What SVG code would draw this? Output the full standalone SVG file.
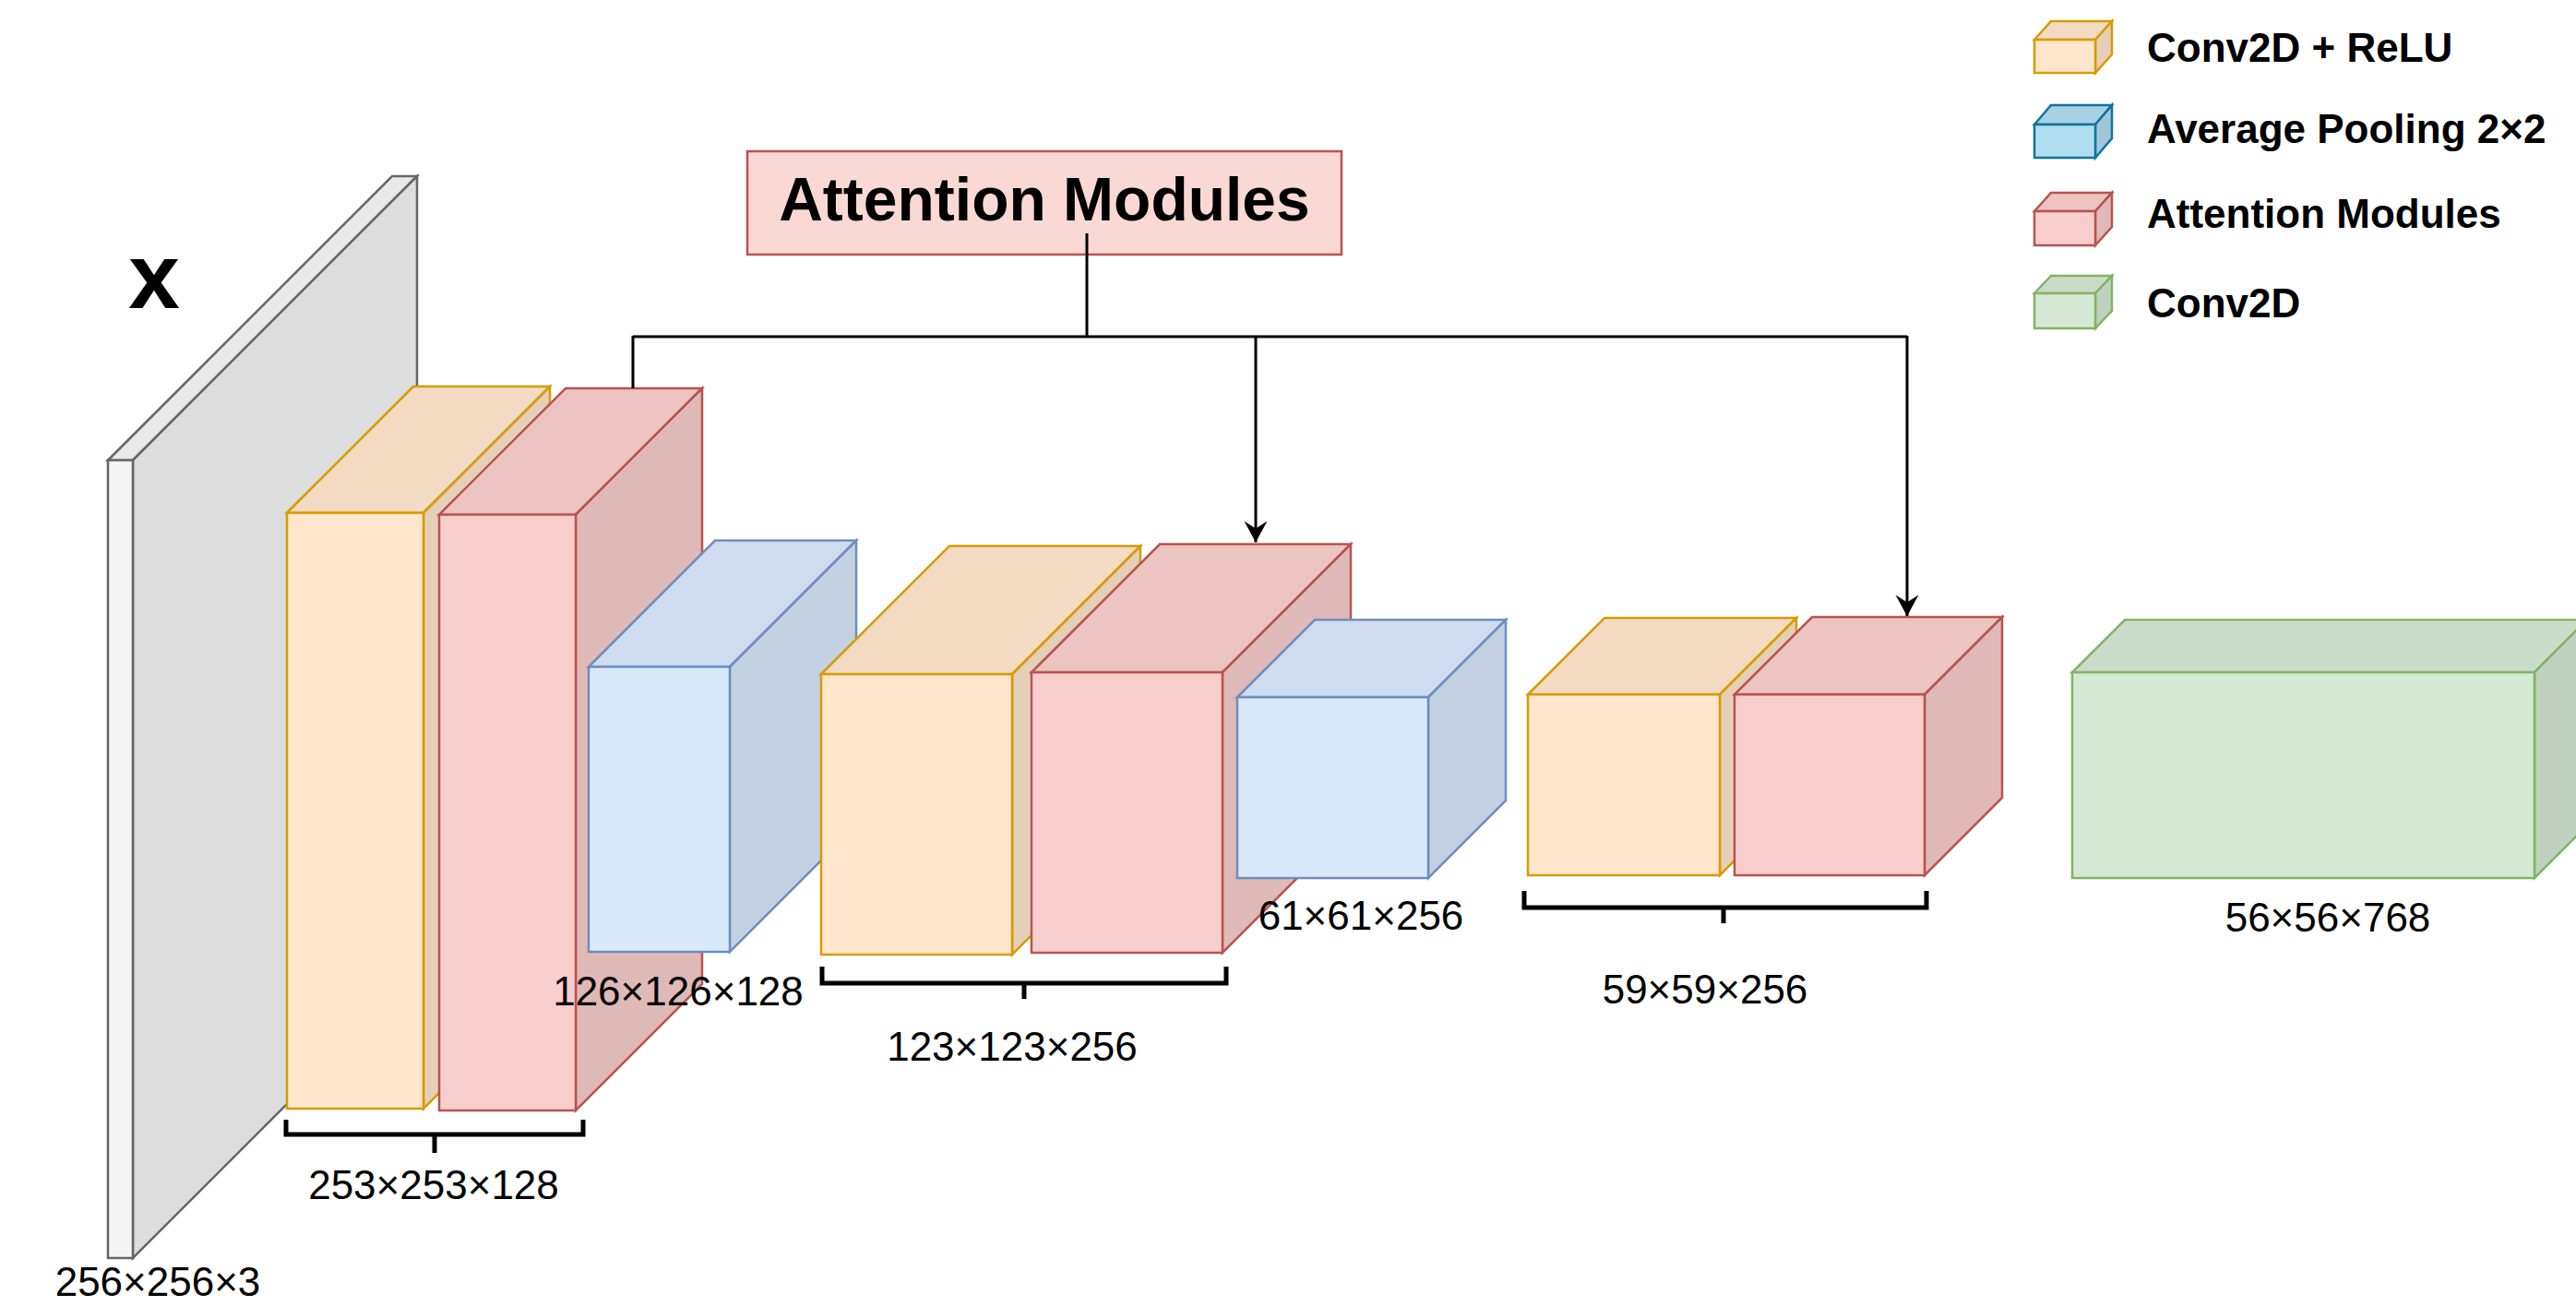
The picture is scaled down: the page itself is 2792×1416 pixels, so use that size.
<svg xmlns="http://www.w3.org/2000/svg" width="2792" height="1416" viewBox="0 0 2792 1416">
<style>
  .lbl { font-family: "Liberation Sans", Arial, sans-serif; font-size: 44px; fill: #000; text-anchor: middle; }
  .leg { font-family: "Liberation Sans", Arial, sans-serif; font-size: 44px; font-weight: bold; fill: #000; }
  .bk { stroke-width: 2.5; stroke-linejoin: miter; }
  .or { stroke: #d79b00; } .or.f { fill: #ffe6cc; } .or.t { fill: #f2dbc2; } .or.s { fill: #e6cfb8; }
  .rd { stroke: #b85450; } .rd.f { fill: #f8cecc; } .rd.t { fill: #ecc4c2; } .rd.s { fill: #dfb9b8; }
  .bl { stroke: #6c8ebf; } .bl.f { fill: #dae8fc; } .bl.t { fill: #cfdcef; } .bl.s { fill: #c4d1e3; }
  .gr { stroke: #82b366; } .gr.f { fill: #d5e8d4; } .gr.t { fill: #cadcc9; } .gr.s { fill: #c0d1bf; }
  .gy { stroke: #666666; } .gy.f { fill: #f5f5f5; } .gy.t { fill: #e9e9e9; } .gy.s { fill: #dddddd; }
  .lb { stroke: #10739e; } .lb.f { fill: #b1ddf0; } .lb.t { fill: #a8d2e4; } .lb.s { fill: #9fc7d8; }
  .conn { fill: none; stroke: #000; stroke-width: 3; }
  .brk { fill: none; stroke: #000; stroke-width: 5; }
</style>
<defs>
  <marker id="arr" markerUnits="userSpaceOnUse" viewBox="-24 -13 25 26" refX="0" refY="0" markerWidth="25" markerHeight="26" orient="auto">
    <path d="M0,0 L-23,-12.5 L-15,0 L-23,12.5 Z" fill="#000"/>
  </marker>
</defs>
<rect width="2792" height="1416" fill="#ffffff"/>

<g id="input-slab">
  <polygon class="bk gy t" points="117,499 425,191 452,191 144,499"/>
  <polygon class="bk gy s" points="144,499 452,191 452,1056 144,1364"/>
  <rect class="bk gy f" x="117" y="499" width="27" height="865"/>
  <text x="167" y="334" style="font-family:'Liberation Sans',Arial,sans-serif;font-size:100px;font-weight:bold;text-anchor:middle">x</text>
  <text class="lbl" x="171" y="1405">256×256×3</text>
</g>

<g id="conv1">
  <polygon class="bk or t" points="311,556 448,419 596,419 459,556"/>
  <polygon class="bk or s" points="459,556 596,419 596,1065 459,1202"/>
  <rect class="bk or f" x="311" y="556" width="148" height="646"/>
</g>
<g id="att1">
  <polygon class="bk rd t" points="476,558 613,421 761,421 624,558"/>
  <polygon class="bk rd s" points="624,558 761,421 761,1067 624,1204"/>
  <rect class="bk rd f" x="476" y="558" width="148" height="646"/>
</g>
<g id="bracket1">
  <path class="brk" d="M310,1214 V1230 H632 V1214 M471,1230 V1250"/>
  <text class="lbl" x="470" y="1300">253×253×128</text>
</g>
<g id="pool1">
  <polygon class="bk bl t" points="638,723 775,586 928,586 791,723"/>
  <polygon class="bk bl s" points="791,723 928,586 928,895 791,1032"/>
  <rect class="bk bl f" x="638" y="723" width="153" height="309"/>
  <text class="lbl" x="735" y="1090">126×126×128</text>
</g>

<g id="conv2">
  <polygon class="bk or t" points="890,731 1029,592 1236,592 1097,731"/>
  <polygon class="bk or s" points="1097,731 1236,592 1236,896 1097,1035"/>
  <rect class="bk or f" x="890" y="731" width="207" height="304"/>
</g>
<g id="att2">
  <polygon class="bk rd t" points="1118,729 1257,590 1464,590 1325,729"/>
  <polygon class="bk rd s" points="1325,729 1464,590 1464,894 1325,1033"/>
  <rect class="bk rd f" x="1118" y="729" width="207" height="304"/>
</g>
<g id="bracket2">
  <path class="brk" d="M891,1048 V1066 H1329 V1048 M1110,1066 V1083"/>
  <text class="lbl" x="1097" y="1150">123×123×256</text>
</g>
<g id="pool2">
  <polygon class="bk bl t" points="1341,756 1425,672 1632,672 1548,756"/>
  <polygon class="bk bl s" points="1548,756 1632,672 1632,868 1548,952"/>
  <rect class="bk bl f" x="1341" y="756" width="207" height="196"/>
  <text class="lbl" x="1475" y="1008">61×61×256</text>
</g>

<g id="conv3">
  <polygon class="bk or t" points="1656,753 1739,670 1947,670 1864,753"/>
  <polygon class="bk or s" points="1864,753 1947,670 1947,866 1864,949"/>
  <rect class="bk or f" x="1656" y="753" width="208" height="196"/>
</g>
<g id="att3">
  <polygon class="bk rd t" points="1880,753 1964,669 2170,669 2086,753"/>
  <polygon class="bk rd s" points="2086,753 2170,669 2170,865 2086,949"/>
  <rect class="bk rd f" x="1880" y="753" width="206" height="196"/>
</g>
<g id="bracket3">
  <path class="brk" d="M1652,966 V984 H2088 V966 M1868,984 V1001"/>
  <text class="lbl" x="1848" y="1088">59×59×256</text>
</g>

<g id="conv-out">
  <polygon class="bk gr t" points="2246,729 2303,672 2804,672 2747,729"/>
  <polygon class="bk gr s" points="2747,729 2804,672 2804,895 2747,952"/>
  <rect class="bk gr f" x="2246" y="729" width="501" height="223"/>
  <text class="lbl" x="2523" y="1010">56×56×768</text>
</g>

<g id="attention-box">
  <rect x="810" y="164" width="644" height="112" fill="#fad9d5" stroke="#b85450" stroke-width="2.5"/>
  <text x="1132" y="239" style="font-family:'Liberation Sans',Arial,sans-serif;font-size:66px;font-weight:bold;text-anchor:middle">Attention Modules</text>
</g>

<g id="connectors">
  <path class="conn" d="M1178,253 V365"/>
  <path class="conn" d="M686,365 H2067"/>
  <path class="conn" d="M686,364 V421"/>
  <path class="conn" d="M1361,365 V588" marker-end="url(#arr)"/>
  <path class="conn" d="M2067,364 V668" marker-end="url(#arr)"/>
</g>

<g id="legend">
  <g id="legend-conv-relu">
    <polygon class="bk or t" points="2205,43 2223,23 2289,23 2271,43"/>
    <polygon class="bk or s" points="2271,43 2289,23 2289,59 2271,79"/>
    <rect class="bk or f" x="2205" y="43" width="66" height="36"/>
    <text class="leg" x="2327" y="67">Conv2D + ReLU</text>
  </g>
  <g id="legend-pool">
    <polygon class="bk lb t" points="2205,135 2223,114 2289,114 2271,135"/>
    <polygon class="bk lb s" points="2271,135 2289,114 2289,150 2271,171"/>
    <rect class="bk lb f" x="2205" y="135" width="66" height="36"/>
    <text class="leg" x="2327" y="155">Average Pooling 2×2</text>
  </g>
  <g id="legend-att">
    <polygon class="bk rd t" points="2205,229 2223,209 2289,209 2271,229"/>
    <polygon class="bk rd s" points="2271,229 2289,209 2289,246 2271,266"/>
    <rect class="bk rd f" x="2205" y="229" width="66" height="37"/>
    <text class="leg" x="2327" y="247">Attention Modules</text>
  </g>
  <g id="legend-conv">
    <polygon class="bk gr t" points="2205,318 2223,299 2289,299 2271,318"/>
    <polygon class="bk gr s" points="2271,318 2289,299 2289,337 2271,356"/>
    <rect class="bk gr f" x="2205" y="318" width="66" height="38"/>
    <text class="leg" x="2327" y="344">Conv2D</text>
  </g>
</g>
</svg>
